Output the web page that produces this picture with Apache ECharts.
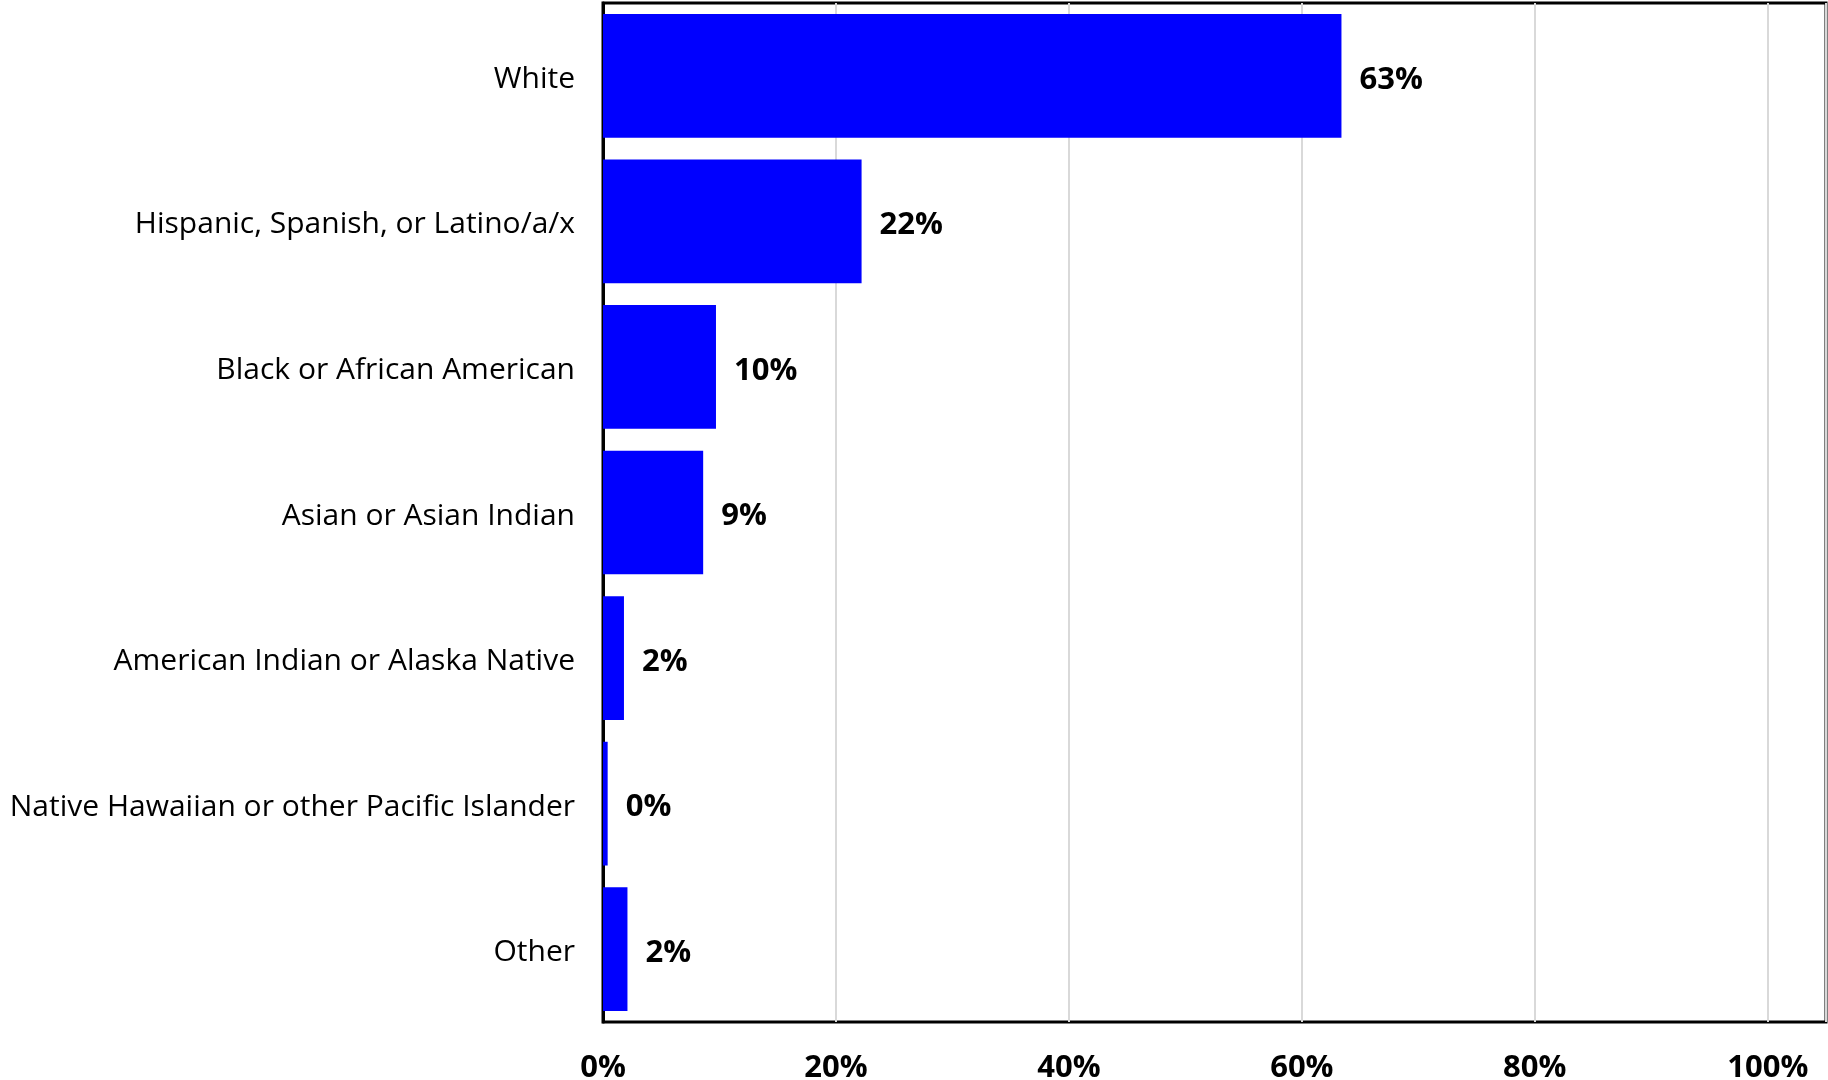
<!DOCTYPE html>
<html>
<head>
<meta charset="utf-8">
<script src="https://cdn.jsdelivr.net/npm/echarts@6/dist/echarts.min.js"></script>
<style>
  html, body { margin: 0; padding: 0; background: #fff; }
  #chart { width: 1828px; height: 1080px; }
</style>
</head>
<body>
<div id="chart"></div>
<script>
// chart data (percent)
const categories = [
  'White',
  'Hispanic, Spanish, or Latino/a/x',
  'Black or African American',
  'Asian or Asian Indian',
  'American Indian or Alaska Native',
  'Native Hawaiian or other Pacific Islander',
  'Other'
]
const shares = [63.4, 22.2, 9.7, 8.6, 1.8, 0.4, 2.1]
const tickValues = [0, 20, 40, 60, 80, 100]

const FONT = '"Open Sans", "Noto Sans", sans-serif'

const chart = echarts.init(document.getElementById('chart'))

const option = {
  animation: false,
  backgroundColor: '#fff',
  grid: {
    left: 603,
    right: 2,
    top: 3,
    bottom: 58,
    outerBoundsMode: 'none',
    show: true,
    borderColor: '#000',
    borderWidth: 3
  },
  xAxis: {
    type: 'value',
    min: 0,
    max: 105,
    interval: 20,
    axisLine: { show: false },
    axisTick: { show: false },
    splitLine: { show: true, lineStyle: { color: '#d9d9d9', width: 2 } },
    axisLabel: {
      showMaxLabel: false,
      margin: 31,
      color: '#000',
      fontFamily: FONT,
      fontWeight: 'bold',
      fontSize: 31,
      formatter: v => (tickValues.indexOf(v) >= 0 ? v + '%' : '')
    }
  },
  yAxis: {
    type: 'category',
    inverse: true,
    data: categories,
    axisLine: { show: true, lineStyle: { color: '#000', width: 3 } },
    axisTick: { show: false },
    axisLabel: {
      margin: 28,
      color: '#000',
      fontFamily: FONT,
      fontSize: 30,
      // small spacer line above nudges the text a bit lower
      formatter: v => '{s| }\n{a|' + v + '}',
      rich: {
        s: { fontSize: 1, lineHeight: 7 },
        a: { fontFamily: FONT, fontSize: 30, lineHeight: 36, color: '#000' }
      }
    }
  },
  series: [
    {
      type: 'bar',
      data: shares,
      barCategoryGap: '15%',
      itemStyle: { color: '#0000ff' },
      label: {
        show: true,
        position: 'right',
        distance: 18,
        offset: [0, 4],
        color: '#000',
        fontFamily: FONT,
        fontWeight: 'bold',
        fontSize: 31,
        formatter: p => Math.round(p.value) + '%'
      }
    }
  ]
}

chart.setOption(option)
</script>
</body>
</html>
